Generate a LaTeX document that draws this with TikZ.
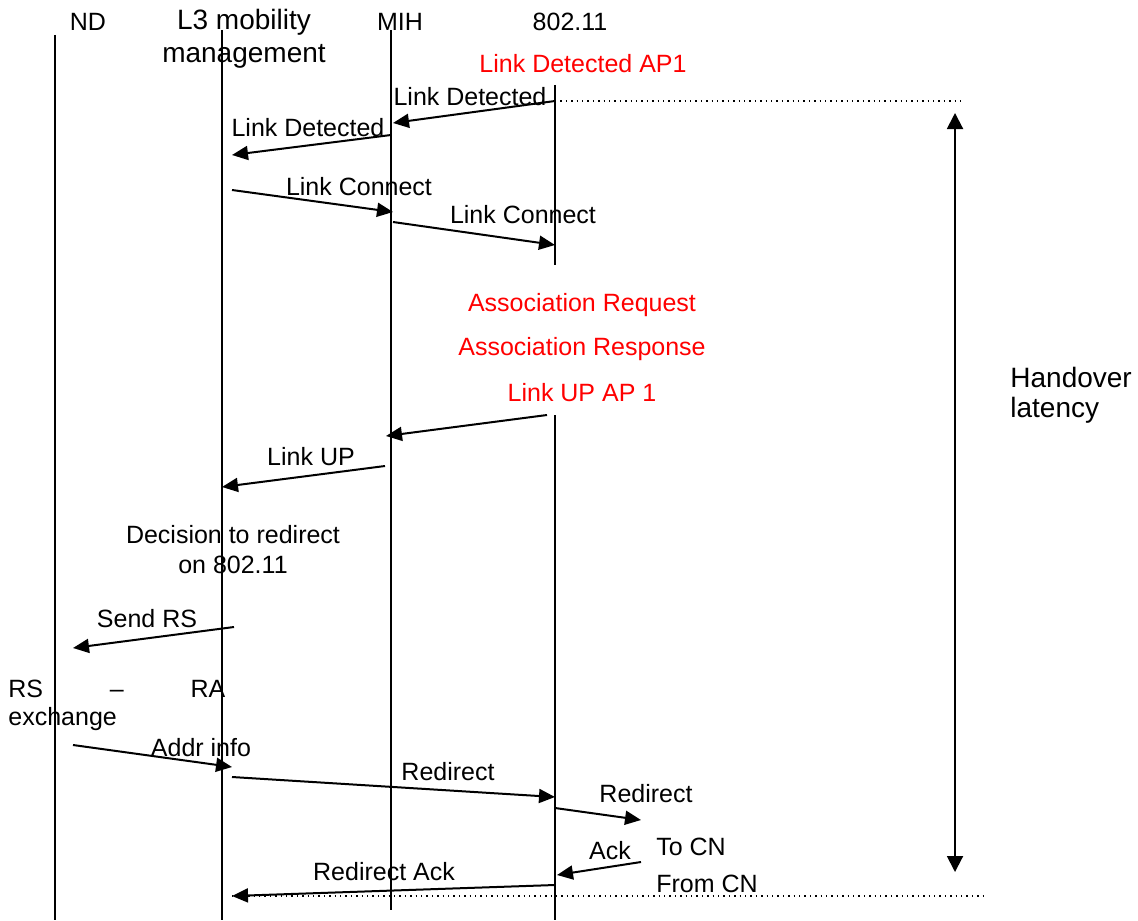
\documentclass[tikz,border=0pt]{standalone}
\usepackage{fontspec}
\setmainfont{Liberation Sans}
\usetikzlibrary{arrows.meta}

\begin{document}
\begin{tikzpicture}[x=0.5pt, y=-0.5pt,
lifeline/.style={line width=1pt},
msg/.style={line width=1pt, -{Triangle[length=8pt, width=7pt]}},
lbl/.style={inner sep=0pt, font=\fontsize{12.5}{15}\selectfont},
biglbl/.style={inner sep=0pt, font=\fontsize{14}{16.5}\selectfont},
redlbl/.style={lbl, text=red},
guide/.style={line width=0.7pt, dotted},
]

\useasboundingbox (0,0) rectangle (1138,920);

% headers
\node[lbl]                    (nd)    at (88,22)  {ND};
\node[biglbl, align=center]   (l3)    at (244,39) {L3 mobility\\management};
\node[lbl]                    (mih)   at (400,22) {MIH};
\node[lbl]                    (wlan)  at (570,22) {802.11};

% lifelines
\coordinate (ndtop)   at (55,35);   \coordinate (ndbot)   at (55,920);
\coordinate (l3top)   at (222,30);  \coordinate (l3bot)   at (222,920);
\coordinate (mihtop)  at (391,30);  \coordinate (mihbot)  at (391,910);
\coordinate (wlantop) at (555,85);  \coordinate (wlanmid) at (555,265);
\coordinate (wlanup)  at (555,415); \coordinate (wlanbot) at (555,920);

\draw[lifeline] (ndtop) -- (ndbot);
\draw[lifeline] (l3top) -- (l3bot);
\draw[lifeline] (mihtop) -- (mihbot);
\draw[lifeline] (wlantop) -- (wlanmid);
\draw[lifeline] (wlanup) -- (wlanbot);

% message end points
\coordinate (ldA1) at (555,101); \coordinate (ldA2) at (393,123);
\coordinate (ldB1) at (391,135); \coordinate (ldB2) at (232,155);
\coordinate (lcA1) at (232,190); \coordinate (lcA2) at (393,212);
\coordinate (lcB1) at (393,222); \coordinate (lcB2) at (555,245);
\coordinate (luA1) at (547,415); \coordinate (luA2) at (386,436);
\coordinate (luB1) at (385,466); \coordinate (luB2) at (222,487);
\coordinate (rs1)  at (234,627); \coordinate (rs2)  at (73,648);
\coordinate (ad1)  at (73,745);  \coordinate (ad2)  at (232,767);
\coordinate (rdA1) at (232,777); \coordinate (rdA2) at (555,797);
\coordinate (rdB1) at (555,808); \coordinate (rdB2) at (641,820);
\coordinate (ack1) at (641,862); \coordinate (ack2) at (557,875);
\coordinate (ra1)  at (555,885); \coordinate (ra2)  at (232,896);

% dotted guides
\coordinate (gtop) at (965,101);
\coordinate (gbot) at (985,896);
\draw[guide] (ldA1) -- (gtop);
\draw[guide] (ra2) -- (gbot);

% messages
\draw[msg] (ldA1) -- (ldA2);
\draw[msg] (ldB1) -- (ldB2);
\draw[msg] (lcA1) -- (lcA2);
\draw[msg] (lcB1) -- (lcB2);
\draw[msg] (luA1) -- (luA2);
\draw[msg] (luB1) -- (luB2);
\draw[msg] (rs1) -- (rs2);
\draw[msg] (ad1) -- (ad2);
\draw[msg] (rdA1) -- (rdA2);
\draw[msg] (rdB1) -- (rdB2);
\draw[msg] (ack1) -- (ack2);
\draw[msg] (ra1) -- (ra2);

% message labels
\node[lbl] (ldAl) at (470,97)  {Link Detected};
\node[lbl] (ldBl) at (308,128) {Link Detected};
\node[lbl] (lcAl) at (359,187) {Link Connect};
\node[lbl] (lcBl) at (523,215) {Link Connect};
\node[lbl] (luBl) at (311,457) {Link UP};
\node[lbl] (rsl)  at (147,619) {Send RS};
\node[lbl] (adl)  at (201,748) {Addr info};
\node[lbl] (rdAl) at (448,772) {Redirect};
\node[lbl] (rdBl) at (646,794) {Redirect};
\node[lbl] (ackl) at (610,851) {Ack};
\node[lbl] (tocn) at (691,847) {To CN};
\node[lbl] (frcn) at (707,884) {From CN};
\node[lbl] (ral)  at (384,872) {Redirect Ack};

% 802.11 events
\node[redlbl] (ev1) at (583,64)  {Link Detected AP1};
\node[redlbl] (ev2) at (582,305) {Association Request};
\node[redlbl] (ev3) at (582,349) {Association Response};
\node[redlbl] (ev4) at (582,393) {Link UP AP 1};

% notes
\node[lbl, align=center] (dec) at (233,550) {Decision to redirect\\on 802.11};
\node[lbl, anchor=north west, text width=108.5pt, align=left,
      font=\fontsize{12.5}{14}\selectfont] (rsra) at (8,680)
      {RS\hfill–\hfill RA\\exchange};

% handover latency
\coordinate (hotop) at (955,113);
\coordinate (hobot) at (955,872);
\draw[line width=1pt, {Triangle[length=8pt, width=8pt]}-{Triangle[length=8pt, width=8pt]}] (hotop) -- (hobot);
\node[biglbl, anchor=west, align=left, font=\fontsize{14}{15}\selectfont] (ho) at (1010,395) {Handover\\latency};

\end{tikzpicture}
\end{document}
